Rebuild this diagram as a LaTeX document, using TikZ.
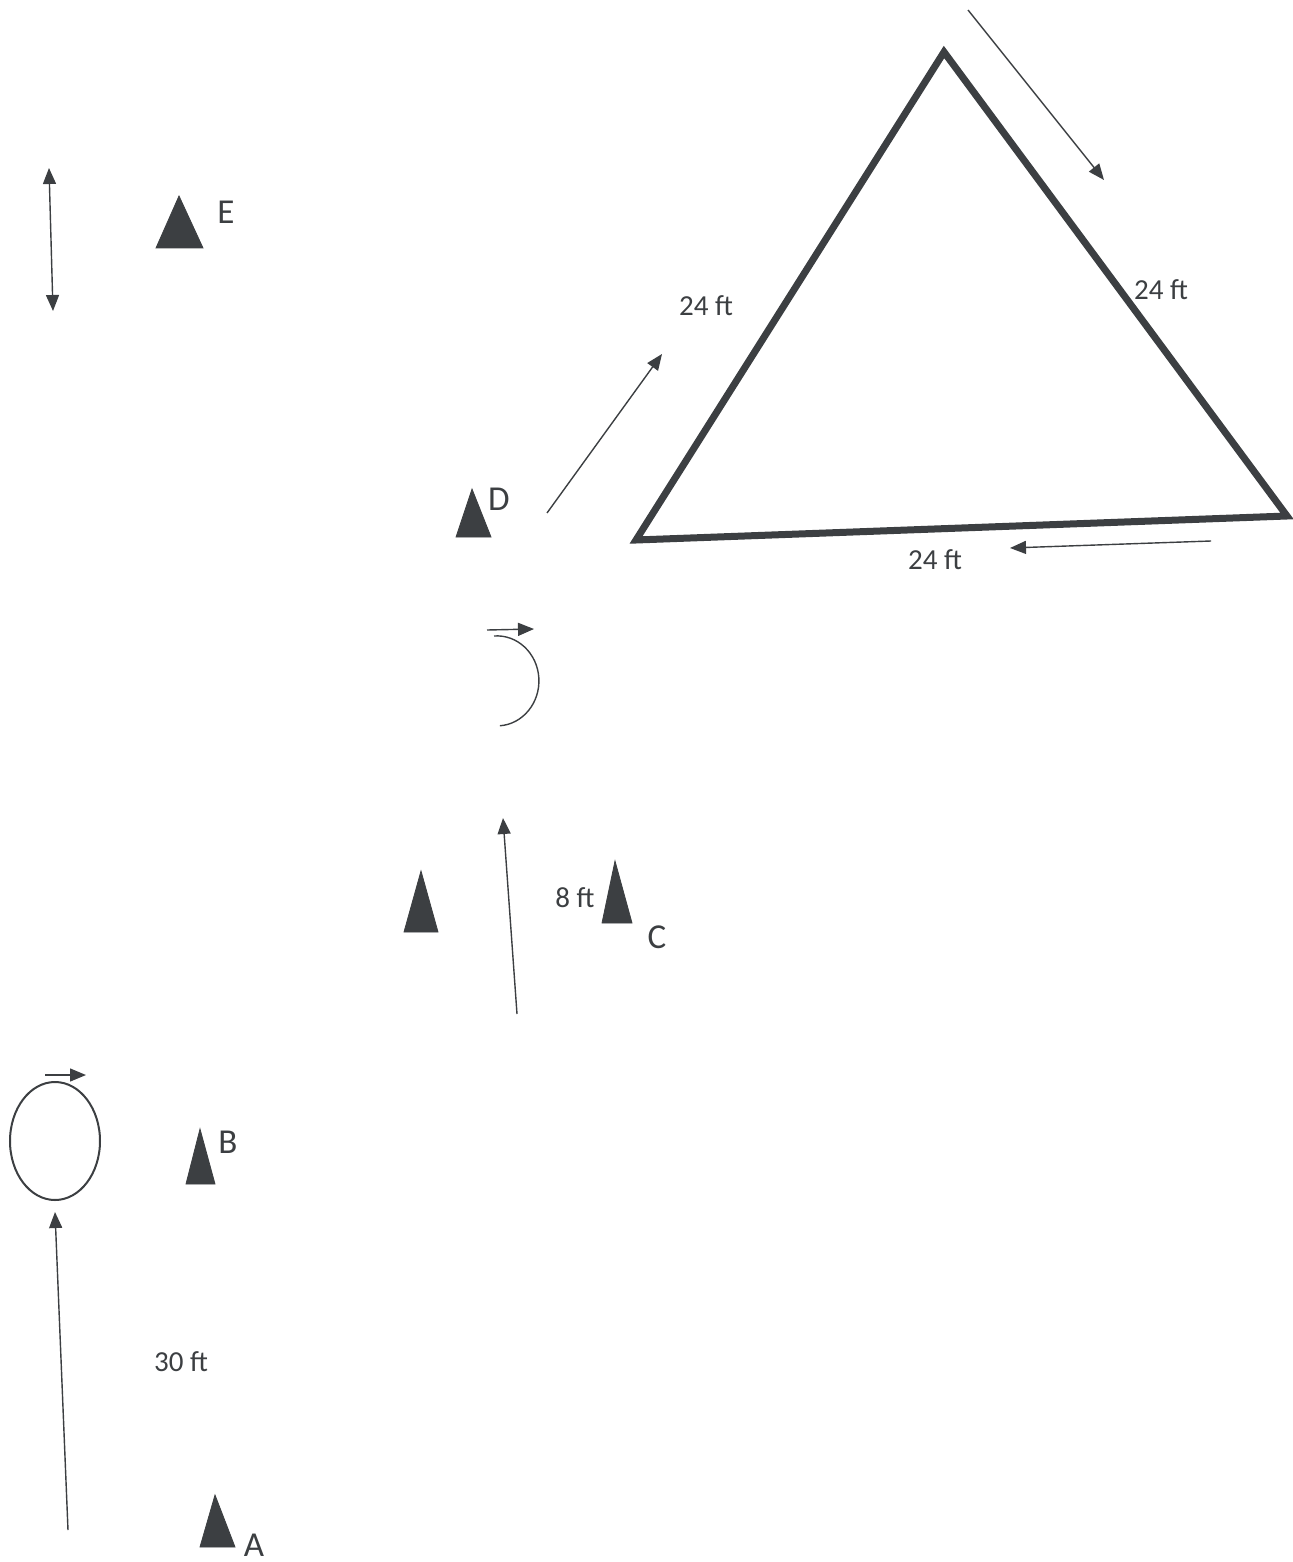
\documentclass[tikz,border=0pt]{standalone}
\usepackage{fontspec}
\setmainfont{Carlito}
\usepackage{tikz}
\usetikzlibrary{arrows.meta,positioning}
\definecolor{Ink}{HTML}{3C3F42}
\tikzset{
  conebox/.style={fill=Ink, draw=Ink, line width=0.4pt},
  runarrow/.style={
    -{Triangle[length=8pt, width=6.5pt]},
    line width=0.7pt,
    draw=Ink
  },
  distlabel/.style={font=\fontsize{14.5}{16}\selectfont, text=Ink, inner sep=1pt},
  conelabel/.style={font=\fontsize{17.5}{19}\selectfont, text=Ink, inner sep=1pt}
}
% cone: apex x, apex y, base left x, base right x, base y
\newcommand{\conemark}[5]{\filldraw[conebox] (#1,#2) -- (#3,#5) -- (#4,#5) -- cycle;}

\begin{document}
\begin{tikzpicture}[x=0.5pt, y=-0.5pt]
\useasboundingbox (0,0) rectangle (1292,1562);
% triangle course
\coordinate (top) at (944,52);
\coordinate (lowleft) at (636,540);
\coordinate (lowright) at (1287,516);
\draw[draw=Ink, line width=3.5pt, line join=miter] (top) -- (lowright) -- (lowleft) -- cycle;
\node[distlabel] (sideleft) at (706,306) {24 ft};
\node[distlabel] (sideright) at (1161,290) {24 ft};
\node[distlabel] (sidebase) at (935,560) {24 ft};
\coordinate (dstart) at (547,513);
\coordinate (dend) at (662,354);
\coordinate (tstart) at (968,10);
\coordinate (tend) at (1104,180);
\coordinate (bstart) at (1211,541);
\coordinate (bend) at (1010,548);
\draw[runarrow] (dstart) -- (dend);
\draw[runarrow] (tstart) -- (tend);
\draw[runarrow] (bstart) -- (bend);
% cone E and shuffle
\conemark{179}{196}{156}{203}{248}
\node[conelabel] (labelE) at (226,212) {E};
\coordinate (shuffletop) at (49,168);
\coordinate (shufflebot) at (53,311);
\draw[runarrow, {Triangle[length=8pt, width=6.5pt]}-{Triangle[length=8pt, width=6.5pt]}] (shuffletop) -- (shufflebot);
% cone D and half turn
\conemark{472}{489}{456}{491}{537}
\node[conelabel] (labelD) at (499,499) {D};
\draw[draw=Ink, line width=0.7pt] (494,636) arc[start angle=94, end angle=-86, x radius=21pt, y radius=22.5pt];
\coordinate (turnstart) at (487,630);
\coordinate (turnend) at (534,629);
\draw[runarrow] (turnstart) -- (turnend);
% cones at C
\conemark{421}{871}{404}{438}{932}
\conemark{615}{861}{602}{632}{923}
\node[conelabel] (labelC) at (657,937) {C};
\node[distlabel] (gapC) at (575,898) {8 ft};
\coordinate (cstart) at (517,1014);
\coordinate (cend) at (503,818);
\draw[runarrow] (cstart) -- (cend);
% loop at B
\draw[draw=Ink, line width=1pt] (55,1141) ellipse[x radius=22.5pt, y radius=29.5pt];
\coordinate (loopstart) at (45,1075);
\coordinate (loopend) at (86,1075);
\draw[runarrow] (loopstart) -- (loopend);
\conemark{200}{1129}{186}{215}{1184}
\node[conelabel] (labelB) at (228,1142) {B};
% sprint from A
\coordinate (astart) at (68,1530);
\coordinate (aend) at (55,1212);
\draw[runarrow] (astart) -- (aend);
\node[distlabel] (gapA) at (181,1362) {30 ft};
\conemark{215}{1495}{200}{235}{1547}
\node[conelabel] (labelA) at (254,1545) {A};
\end{tikzpicture}
\end{document}
